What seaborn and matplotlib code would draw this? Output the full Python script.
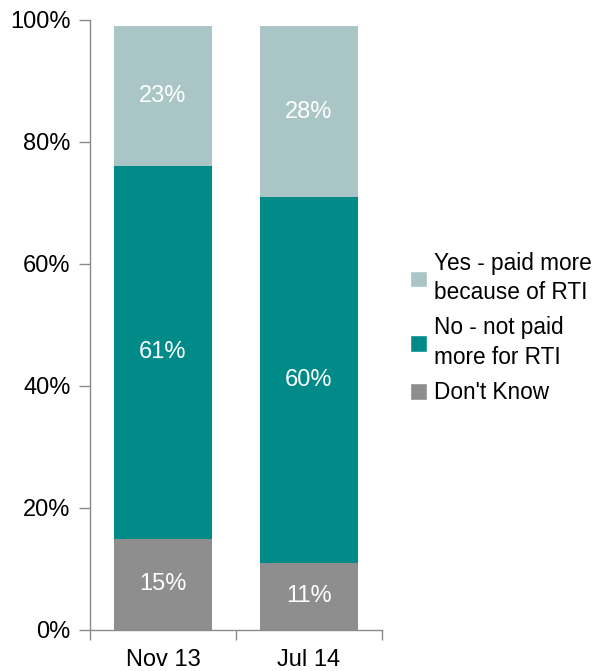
import matplotlib
matplotlib.use("Agg")
import matplotlib.pyplot as plt
import seaborn as sns
import numpy as np
import pandas as pd
from matplotlib.patches import Patch

categories = ["Nov 13", "Jul 14"]
dont_know = [15, 11]
no_not_paid = [61, 60]
yes_paid = [23, 28]
series_labels = ["Yes - paid more\nbecause of RTI", "No - not paid\nmore for RTI", "Don't Know"]
y_ticks = [0, 20, 40, 60, 80, 100]

colors = {"dk": "#8e8e8e", "no": "#008b89", "yes": "#aac5c5"}
FS = 17

sns.set_theme(style="white")
plt.rcParams["font.family"] = ["Liberation Sans", "DejaVu Sans"]

fig = plt.figure(figsize=(5.97, 6.71), dpi=100)
ax = fig.add_axes([90 / 597, 1 - 630 / 671, 292 / 597, 610 / 671])

df = pd.DataFrame({"cat": categories, "dk": dont_know, "no": no_not_paid, "yes": yes_paid})
bottom = np.zeros(len(categories))
for key in ["dk", "no", "yes"]:
    sns.barplot(data=df, x="cat", y=key, bottom=bottom, color=colors[key],
                width=0.67, saturation=1, ax=ax, linewidth=0)
    for i, v in enumerate(df[key]):
        ax.text(i, bottom[i] + v / 2, f"{v}%", ha="center", va="center",
                color="white", fontsize=FS)
    bottom = bottom + df[key].values

ax.set_xlim(-0.5, 1.5)
ax.set_ylim(0, 100)
ax.set_yticks(y_ticks)
ax.set_yticklabels([f"{t}%" for t in y_ticks], fontsize=FS, color="black")
ax.set_xticks([0, 1])
ax.set_xticklabels(categories, fontsize=FS, color="black")
ax.set_xlabel("")
ax.set_ylabel("")

for s in ["top", "right"]:
    ax.spines[s].set_visible(False)
for s in ["left", "bottom"]:
    ax.spines[s].set_color("#8a8a8a")
    ax.spines[s].set_linewidth(1.0)

ax.tick_params(axis="y", which="major", left=True, length=8, width=1.0,
               color="#8a8a8a", pad=6, direction="out")
ax.tick_params(axis="x", which="major", bottom=False, pad=8)
# boundary ticks between categories on the x axis
ax.set_xticks([-0.5, 0.5, 1.5], minor=True)
ax.tick_params(axis="x", which="minor", bottom=True, length=7, width=1.0,
               color="#8a8a8a", direction="out")

handles = [Patch(facecolor=colors["yes"]), Patch(facecolor=colors["no"]), Patch(facecolor=colors["dk"])]
leg = fig.legend(handles, series_labels, loc="center left", bbox_to_anchor=(410 / 597, 1 - 328 / 671),
                 frameon=False, fontsize=16.3, handlelength=0.75, handleheight=0.75,
                 handletextpad=0.3, labelspacing=0.55, borderaxespad=0, borderpad=0,
                 labelcolor="black")
for t in leg.get_texts():
    t.set_linespacing(1.35)

fig.savefig("out.png", dpi=100)
